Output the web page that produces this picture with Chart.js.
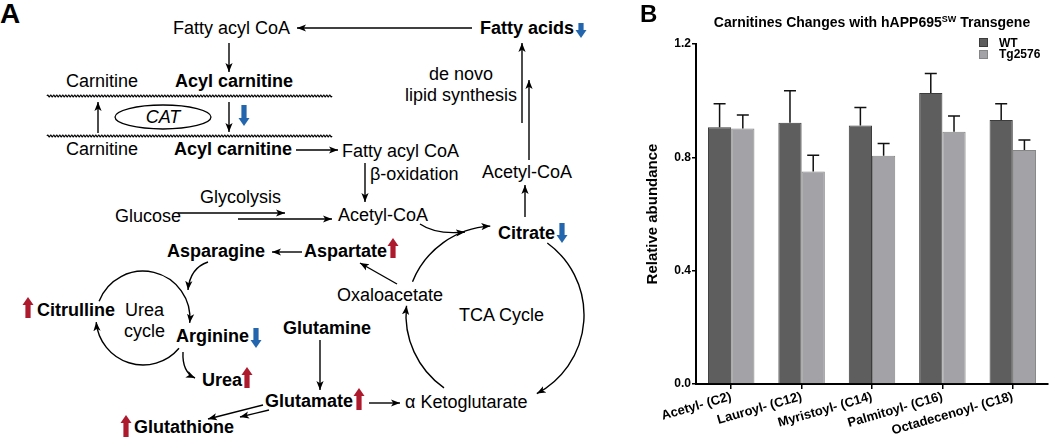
<!DOCTYPE html>
<html>
<head>
<meta charset="utf-8">
<script src="https://cdn.jsdelivr.net/npm/chart.js@4.4.1/dist/chart.umd.min.js"></script>
<style>
  html, body { margin: 0; padding: 0; background: #fff; }
  body { width: 1050px; height: 441px; position: relative; overflow: hidden;
         font-family: "Liberation Sans", Arial, sans-serif; color: #000; }
  #panelA { position: absolute; left: 0; top: 0; }
  #panelA text { font-family: "Liberation Sans", Arial, sans-serif; font-size: 18px; fill: #000; }
  #panelA text.b { font-weight: bold; }
  #wrapB { position: absolute; left: 600px; top: 0; width: 450px; height: 441px; }
  #chartB { position: absolute; left: 0; top: 0; }
  .letter { position: absolute; font-weight: bold; font-size: 24px; line-height: 24px; }
  #titleB { position: absolute; left: 96px; top: 14px; width: 352px; text-align: center;
            font-weight: bold; font-size: 14px; line-height: 16px; white-space: nowrap; }
  #titleB sup { font-size: 9px; vertical-align: baseline; position: relative; top: -5px; }
  #legendB { position: absolute; left: 379px; top: 37px; font-weight: bold; font-size: 12px; }
  #legendB div { height: 11.5px; line-height: 12px; display: flex; align-items: center; }
  #legendB span.sw { width: 7px; height: 7px; margin-right: 11px; display: inline-block; }
</style>
</head>
<body>

<svg id="panelA" width="600" height="441" viewBox="0 0 600 441">
  <defs>
    <marker id="ah" viewBox="0 0 10 10" refX="10" refY="5" markerWidth="9" markerHeight="9"
            markerUnits="userSpaceOnUse" orient="auto">
      <path d="M0,1 L10,5 L0,9 L2.5,5 z" fill="#000"/>
    </marker>
  </defs>
  <text x="0" y="23" class="b" style="font-size:28px">A</text>

  <text x="173" y="34">Fatty acyl CoA</text>
  <text x="480" y="34" class="b">Fatty acids</text>
  <text x="66" y="87">Carnitine</text>
  <text x="175" y="87" class="b">Acyl carnitine</text>
  <text x="163" y="123" text-anchor="middle" style="font-style:italic">CAT</text>
  <text x="66" y="155">Carnitine</text>
  <text x="174" y="155" class="b">Acyl carnitine</text>
  <text x="342" y="157">Fatty acyl CoA</text>
  <text x="370" y="180">β-oxidation</text>
  <text x="461" y="80" text-anchor="middle">de novo</text>
  <text x="461" y="101" text-anchor="middle">lipid synthesis</text>
  <text x="482" y="178">Acetyl-CoA</text>
  <text x="200" y="203">Glycolysis</text>
  <text x="115" y="222">Glucose</text>
  <text x="338" y="221">Acetyl-CoA</text>
  <text x="498" y="239" class="b">Citrate</text>
  <text x="167" y="257" class="b">Asparagine</text>
  <text x="304" y="257" class="b">Aspartate</text>
  <text x="337" y="301">Oxaloacetate</text>
  <text x="459" y="321">TCA Cycle</text>
  <text x="37" y="316" class="b">Citrulline</text>
  <text x="125" y="316">Urea</text>
  <text x="124" y="337">cycle</text>
  <text x="176" y="342" class="b">Arginine</text>
  <text x="283" y="334" class="b">Glutamine</text>
  <text x="202" y="386" class="b">Urea</text>
  <text x="265" y="407" class="b">Glutamate</text>
  <text x="405" y="408">α Ketoglutarate</text>
  <text x="134" y="433" class="b">Glutathione</text>

  <ellipse cx="163" cy="117" rx="48" ry="12" fill="none" stroke="#000" stroke-width="1.3"/>
  <g id="drawn" fill="none" stroke="#000" stroke-width="1.4"></g>
</svg>

<div id="wrapB">
  <canvas id="chartB" width="450" height="441"></canvas>
  <div class="letter" style="left:40px;top:2px;">B</div>
  <div id="titleB">Carnitines Changes with hAPP695<sup>SW</sup> Transgene</div>
  <div id="legendB">
    <div><span class="sw" style="background:#5e5e5e;border:1px solid #3c3c3c"></span>WT</div>
    <div><span class="sw" style="background:#a3a3a7;border:1px solid #858585"></span>Tg2576</div>
  </div>
</div>

<script>
// panel B data
const categories = ['Acetyl- (C2)', 'Lauroyl- (C12)', 'Myristoyl- (C14)', 'Palmitoyl- (C16)', 'Octadecenoyl- (C18)'];
const wtValues = [0.906, 0.922, 0.912, 1.027, 0.932];
const wtErrors = [0.083, 0.113, 0.064, 0.069, 0.057];
const tgValues = [0.902, 0.750, 0.806, 0.890, 0.826];
const tgErrors = [0.047, 0.057, 0.043, 0.056, 0.035];
const yTicks = [0, 0.4, 0.8, 1.2];

// ---- panel A: pathway sketch ----
const NS = 'http://www.w3.org/2000/svg';
const g = document.getElementById('drawn');
const svg = document.getElementById('panelA');

function path(d, arrow) {
  const p = document.createElementNS(NS, 'path');
  p.setAttribute('d', d);
  if (arrow) p.setAttribute('marker-end', 'url(#ah)');
  g.appendChild(p);
}
function arrow(x0, y0, x1, y1) { path(`M${x0},${y0} L${x1},${y1}`, true); }
function arc(cx, cy, r, a0, a1) {
  const k = Math.PI / 180;
  const x0 = cx + r * Math.cos(a0 * k), y0 = cy + r * Math.sin(a0 * k);
  const x1 = cx + r * Math.cos(a1 * k), y1 = cy + r * Math.sin(a1 * k);
  path(`M${x0.toFixed(1)},${y0.toFixed(1)} A${r},${r} 0 ${a1 - a0 > 180 ? 1 : 0} 1 ${x1.toFixed(1)},${y1.toFixed(1)}`, true);
}
function wave(x0, x1, y) {
  let d = `M${x0},${y}`;
  for (let x = x0; x < x1; x += 3) d += ' q0.75,-2 1.5,0 q0.75,2 1.5,0';
  const p = document.createElementNS(NS, 'path');
  p.setAttribute('d', d);
  p.setAttribute('stroke-width', '1.1');
  g.appendChild(p);
}
function block(x, yTop, yBot, up, color) {
  const h = 8, hw = 5.5, sw = 2.6;
  const pts = up
    ? [[x, yTop], [x + hw, yTop + h], [x + sw, yTop + h], [x + sw, yBot], [x - sw, yBot], [x - sw, yTop + h], [x - hw, yTop + h]]
    : [[x, yBot], [x + hw, yBot - h], [x + sw, yBot - h], [x + sw, yTop], [x - sw, yTop], [x - sw, yBot - h], [x - hw, yBot - h]];
  const p = document.createElementNS(NS, 'polygon');
  p.setAttribute('points', pts.map(q => q.join(',')).join(' '));
  p.setAttribute('fill', color);
  svg.appendChild(p);
}

wave(47, 330, 96);
wave(47, 330, 136);

arrow(472, 28, 297, 28);
arrow(229, 43, 229, 72);
arrow(98, 133, 98, 102);
arrow(229, 102, 229, 132);
arrow(296, 150, 338, 150);
arrow(365, 163, 365, 202);
arrow(522, 123, 522, 43);
arrow(529, 160, 529, 80);
arrow(525, 217, 525, 185);
arrow(178, 213, 285, 213);
arrow(238, 219, 332, 219);
path('M420,224 Q436,235 465,232', true);
arrow(397, 284, 360, 263);
arrow(302, 252, 272, 252);
path('M208,262 Q190,268 188,290', true);
path('M183,352 Q182,372 195,378', true);
arrow(320, 340, 320, 390);
arrow(369, 403, 400, 403);
arrow(263, 405, 208, 419);
arrow(269, 410, 240, 417);

// urea cycle
arc(143, 318, 47, 201, 366);
arc(143, 318, 47, 40, 175);
// TCA cycle
arc(495, 315, 89, 202, 267);
arc(495, 315, 89, 306, 422);
arc(495, 315, 89, 125, 186);

const RED = '#ad1a2e', BLUE = '#2366ae';
block(581, 23, 38, false, BLUE);
block(244, 105, 126, false, BLUE);
block(562, 223, 243, false, BLUE);
block(256, 328, 348, false, BLUE);
block(393, 238, 258, true, RED);
block(28, 297, 318, true, RED);
block(247, 367, 388, true, RED);
block(359, 388, 410, true, RED);
block(126, 415, 437, true, RED);

// ---- panel B: bar chart ----
Chart.defaults.font.family = '"Liberation Sans", Arial, sans-serif';
Chart.defaults.color = '#000';

const errorBars = {
  id: 'errorBars',
  afterDatasetsDraw(chart) {
    const ctx = chart.ctx, y = chart.scales.y;
    ctx.save();
    ctx.strokeStyle = '#111';
    ctx.lineWidth = 1.5;
    chart.data.datasets.forEach((ds, i) => {
      chart.getDatasetMeta(i).data.forEach((bar, j) => {
        const top = y.getPixelForValue(ds.data[j] + ds.errors[j]);
        ctx.beginPath();
        ctx.moveTo(bar.x, bar.y);
        ctx.lineTo(bar.x, top);
        ctx.moveTo(bar.x - 6, top);
        ctx.lineTo(bar.x + 6, top);
        ctx.stroke();
      });
    });
    ctx.restore();
  }
};

new Chart(document.getElementById('chartB'), {
  type: 'bar',
  data: {
    labels: categories,
    datasets: [
      { label: 'WT', data: wtValues, errors: wtErrors,
        backgroundColor: '#5e5e5e', borderColor: '#3c3c3c', borderWidth: 1 },
      { label: 'Tg2576', data: tgValues, errors: tgErrors,
        backgroundColor: '#a3a3a7', borderColor: '#858585', borderWidth: 1 }
    ]
  },
  options: {
    responsive: false,
    animation: false,
    devicePixelRatio: 1,
    layout: { padding: { top: 44, right: 2, left: 44, bottom: 0 } },
    datasets: { bar: { barPercentage: 1, categoryPercentage: 0.66 } },
    plugins: { legend: { display: false }, tooltip: { enabled: false } },
    scales: {
      x: {
        grid: { offset: false, drawOnChartArea: false, color: '#000', tickLength: 5, lineWidth: 1.5 },
        border: { color: '#000', width: 2 },
        ticks: { font: { weight: 'bold', size: 13 }, color: '#000', minRotation: 16, maxRotation: 16, padding: 0 },
        afterFit: s => { s.height = 57; }
      },
      y: {
        min: 0, max: 1.2,
        afterBuildTicks: s => { s.ticks = yTicks.map(v => ({ value: v })); },
        grid: { drawOnChartArea: false, color: '#000', tickLength: 4, lineWidth: 1.5 },
        border: { color: '#000', width: 2 },
        ticks: { font: { weight: 'bold', size: 12 }, color: '#000', padding: 1,
                 callback: v => Number(v).toFixed(1) },
        title: { display: true, text: 'Relative abundance', color: '#000',
                 font: { weight: 'bold', size: 15 }, padding: { top: 0, bottom: 4 } },
        afterFit: s => { s.width = 52; }
      }
    }
  },
  plugins: [errorBars]
});
</script>
</body>
</html>
